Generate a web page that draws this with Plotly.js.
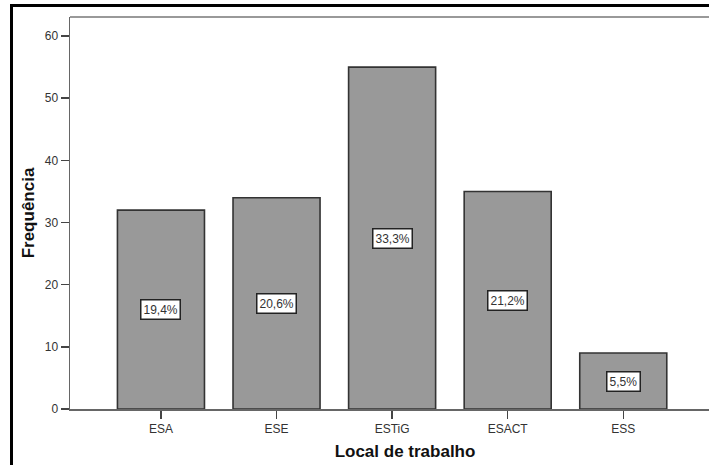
<!DOCTYPE html>
<html>
<head>
<meta charset="utf-8">
<script src="https://cdn.plot.ly/plotly-3.0.1.min.js"></script>
<style>
  html, body { margin: 0; padding: 0; background: #fff; overflow: hidden; }
  #wrap { position: relative; width: 709px; height: 465px; overflow: hidden; }
  #chart { width: 740px; height: 465px; }
  /* outer frame: left and top edges only */
  #frame { position: absolute; left: 10px; top: 4px; width: 800px; height: 500px;
           border-left: 3px solid #000; border-top: 3px solid #000; pointer-events: none; }
</style>
</head>
<body>
<div id="wrap"><div id="chart"></div><div id="frame"></div></div>
<script>
// Frequência por local de trabalho
const locais = ['ESA', 'ESE', 'ESTiG', 'ESACT', 'ESS'];
const frequencias = [32, 34, 55, 35, 9];
const percentagens = ['19,4%', '20,6%', '33,3%', '21,2%', '5,5%'];

const fontFamily = '"Liberation Sans", Arial, sans-serif';

const trace = {
  type: 'bar',
  x: locais,
  y: frequencias,
  marker: { color: '#999999', line: { color: '#333333', width: 1.6 } },
  hoverinfo: 'skip'
};

// Percentage labels in white boxes, at half the bar height
const labels = locais.map((loc, i) => ({
  x: loc,
  y: frequencias[i] / 2,
  xref: 'x',
  yref: 'y',
  text: percentagens[i],
  showarrow: false,
  font: { family: fontFamily, size: 12, color: '#333' },
  bgcolor: '#ffffff',
  bordercolor: '#222222',
  borderwidth: 1.5,
  borderpad: 2
}));

const titleFont = { family: fontFamily, size: 17, color: '#111', weight: 'bold' };
const tickFont = { family: fontFamily, size: 12, color: '#333' };

const layout = {
  width: 740,
  height: 465,
  margin: { l: 70, r: 0, t: 17, b: 56 },
  paper_bgcolor: '#ffffff',
  plot_bgcolor: '#ffffff',
  showlegend: false,
  bargap: 0.247,
  font: { family: fontFamily, color: '#333' },
  xaxis: {
    range: [-0.787, 5.01],
    showgrid: false,
    zeroline: false,
    showline: true,
    linecolor: '#666',
    linewidth: 1.5,
    ticks: 'outside',
    ticklen: 8,
    tickwidth: 1.5,
    tickcolor: '#444',
    tickfont: tickFont,
    title: { text: 'Local de trabalho', font: titleFont, standoff: 10 },
    automargin: false,
    fixedrange: true
  },
  yaxis: {
    range: [0, 63.07],
    tickvals: [0, 10, 20, 30, 40, 50, 60],
    showgrid: false,
    zeroline: false,
    showline: true,
    linecolor: '#666',
    linewidth: 1.5,
    ticks: 'outside',
    ticklen: 8,
    tickwidth: 1.5,
    tickcolor: '#444',
    tickfont: tickFont,
    title: { text: 'Frequência', font: titleFont, standoff: 6 },
    automargin: false,
    fixedrange: true
  },
  annotations: labels,
  shapes: [
    // top edge of the plot area
    { type: 'line', xref: 'paper', yref: 'paper', x0: 0, x1: 1, y0: 1, y1: 1,
      line: { color: '#999', width: 2 } }
  ]
};

Plotly.newPlot('chart', [trace], layout, { displayModeBar: false, staticPlot: true });
</script>
</body>
</html>
